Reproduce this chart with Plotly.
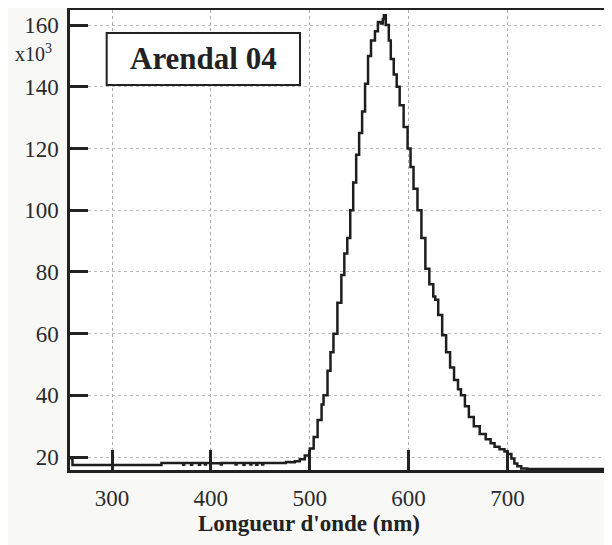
import plotly.graph_objects as go

# Wavelength (nm) and intensity (x10^3 counts)
wavelength = [258, 260, 348, 350, 372, 373, 380, 381, 388, 389, 394, 395, 400, 410, 411,
              425, 426, 433, 434, 440, 441, 446, 447, 452, 453, 470, 476,
              480, 485, 490, 495, 500, 504, 508, 512, 514, 518, 521, 524, 528, 532,
              535, 538, 541, 544, 547, 550, 553, 556, 559, 562, 566, 569, 572, 574,
              575, 577, 580, 582, 585, 588, 591, 595, 599, 602, 605, 609, 613, 617,
              621, 625, 627, 630, 634, 638, 642, 646, 650, 653, 657, 661, 666, 672,
              678, 683, 687, 692, 697, 700, 704, 707, 710, 714, 720, 798]
intensity = [19.5, 17.4, 17.4, 18.1, 17.5, 18.1, 17.5, 18.1, 17.5, 18.1, 17.6, 18.1,
             18.0, 17.6, 18.1, 17.6, 18.1, 17.5, 18.1, 17.6, 18.1, 17.5, 18.1, 17.6, 18.1,
             18.1, 18.4,
             18.3, 18.6, 19.3, 20.5, 22.8, 26.5, 32, 37, 40, 48, 54, 60, 70, 79,
             86, 91, 100, 109, 118, 125, 132, 141, 150, 155, 158, 161, 160.5, 162,
             163.2, 160, 155, 149, 144, 140, 134, 127, 120, 114, 107, 100, 91, 81,
             76, 72, 71, 66, 59.5, 54, 49, 45, 42, 40, 36.5, 33, 30, 27.5,
             25.8, 24.5, 23.3, 22.5, 21.8, 21.0, 19.5, 17.9, 17.0, 16.3, 16.1, 16.1]

x_ticks = [300, 400, 500, 600, 700]
y_ticks = [20, 40, 60, 80, 100, 120, 140, 160]
title_label = "Arendal 04"
x_title = "Longueur d'onde (nm)"

FONT = "Liberation Serif"

fig = go.Figure()
fig.add_trace(go.Scatter(x=wavelength, y=intensity, mode="lines",
                         line=dict(color="#1e1e1e", width=2.5, shape="hv"),
                         hoverinfo="skip", showlegend=False))

fig.update_layout(
    width=604, height=537,
    margin=dict(l=62, r=8, t=2, b=75),
    paper_bgcolor="#f8f8f7",
    plot_bgcolor="white",
    font=dict(family=FONT, size=23, color="#2a2a2a"),
    xaxis=dict(range=[257.5, 797.7], tickvals=x_ticks, ticks="inside", ticklen=20,
               tickwidth=2.5, tickcolor="#222", showline=True, linecolor="#222",
               linewidth=2.5, mirror=True, showgrid=True, gridcolor="#aaaaaa",
               griddash="dot", gridwidth=1, zeroline=False, automargin=False,
               ticklabelstandoff=6),
    yaxis=dict(range=[15.8, 164.9], tickvals=y_ticks, ticks="inside", ticklen=18,
               tickwidth=2.5, tickcolor="#222", showline=True, linecolor="#222",
               linewidth=2.5, mirror=True, showgrid=True, gridcolor="#bbbbbb",
               griddash="dot", gridwidth=1, zeroline=False, automargin=False,
               ticklabelstandoff=4),
    shapes=[
        dict(type="rect", xref="paper", yref="paper", x0=0.0687, x1=0.4307,
             y0=0.837, y1=0.95, line=dict(color="#222", width=2), fillcolor="white",
             layer="above"),
    ],
    annotations=[
        dict(text="<b>" + title_label + "</b>", xref="paper", yref="paper", x=0.25, y=0.894,
             xanchor="center", yanchor="middle", showarrow=False,
             font=dict(size=31, color="#222")),
        dict(text="x10<sup>3</sup>", xref="paper", yref="paper", x=-0.03, y=0.907,
             xanchor="right", yanchor="middle", showarrow=False,
             font=dict(size=20, color="#2a2a2a")),
        dict(text="<b>" + x_title + "</b>", xref="paper", yref="paper", x=0.4476, y=-0.117,
             xanchor="center", yanchor="middle", showarrow=False,
             font=dict(size=23, color="#222")),
    ],
)

fig.write_html("out.html")
